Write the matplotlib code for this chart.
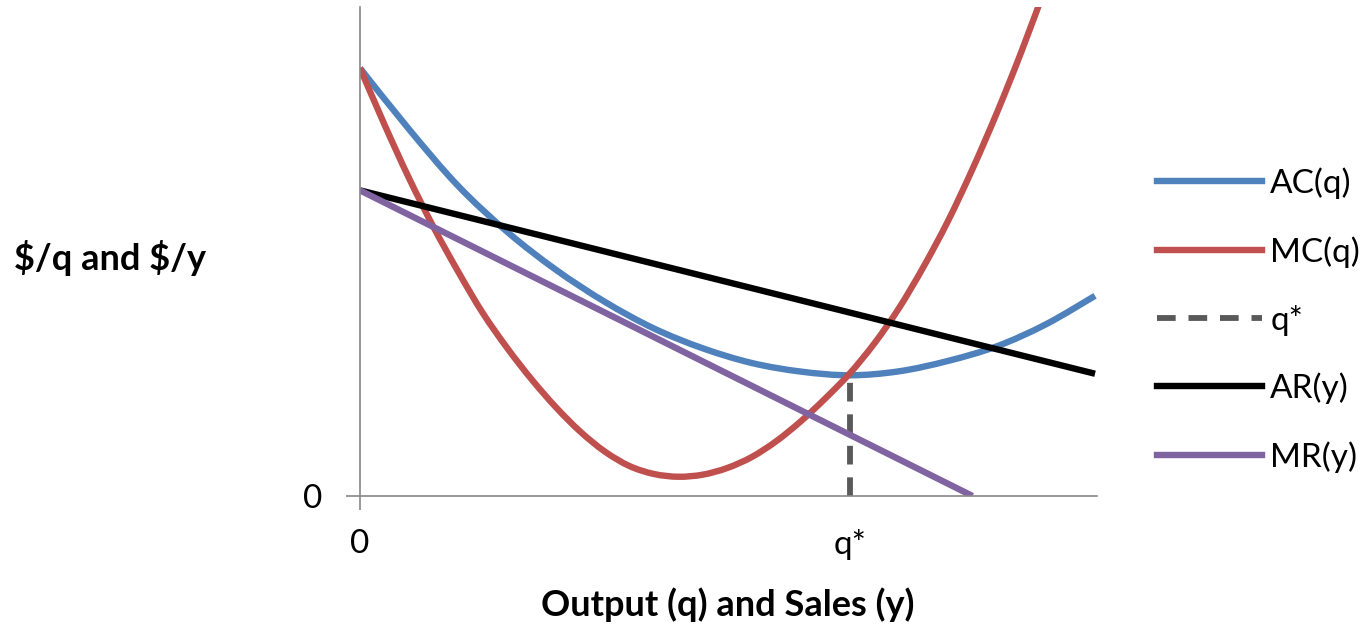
import matplotlib
matplotlib.use("Agg")
import matplotlib.pyplot as plt
from matplotlib.path import Path
from matplotlib.patches import PathPatch
from matplotlib.lines import Line2D

plt.rcParams['font.family'] = ['Lato', 'DejaVu Sans']

# values (x in output units, y in $ units)
q_mc = [0, 0.5, 1, 1.5, 2, 2.5, 3, 3.5, 4, 4.5, 5, 5.5, 6, 6.5, 7, 7.5,
        8, 8.5, 9, 9.5, 10, 10.5, 11, 11.5, 12, 12.5, 13, 13.5, 14]
mc = [14.0, 12.15, 10.4, 8.8, 7.35, 6.0, 4.85, 3.82, 2.9, 2.1, 1.45, 0.98,
      0.72, 0.63, 0.7, 0.92, 1.28, 1.8, 2.45, 3.2, 4.02, 5.0, 6.15, 7.5,
      9.0, 10.7, 12.55, 14.55, 16.7]

q_ac = [0, 1, 2, 3, 4, 5, 6, 7, 8, 9, 10, 11, 12, 13, 14, 15]
ac = [14.0, 12.0, 10.15, 8.65, 7.4, 6.35, 5.48, 4.83, 4.35, 4.07, 3.95,
      4.08, 4.42, 4.9, 5.62, 6.55]

q_ar = [0, 15]
ar = [10.0, 4.0]

q_mr = [0, 12.5]
mr = [10.0, 0.0]

q_star = [10, 10]
q_star_y = [0, 4.0]

c_ac = '#4F81BD'
c_mc = '#C0504D'
c_q = '#595959'
c_mr = '#8064A2'
lw = 4.6


def smooth_line(ax, xs, ys, **kw):
    # excel-style smoothed line: cubic bezier through the points
    pts = list(zip(xs, ys))
    n = len(pts)
    verts = [pts[0]]
    codes = [Path.MOVETO]
    for i in range(n - 1):
        p0 = pts[i - 1] if i > 0 else pts[i]
        p1 = pts[i]
        p2 = pts[i + 1]
        p3 = pts[i + 2] if i + 2 < n else pts[i + 1]
        c1 = (p1[0] + (p2[0] - p0[0]) / 6, p1[1] + (p2[1] - p0[1]) / 6)
        c2 = (p2[0] - (p3[0] - p1[0]) / 6, p2[1] - (p3[1] - p1[1]) / 6)
        verts += [c1, c2, p2]
        codes += [Path.CURVE4] * 3
    patch = PathPatch(Path(verts, codes), fill=False, capstyle='butt',
                      joinstyle='round', **kw)
    ax.add_patch(patch)
    return patch


fig = plt.figure(figsize=(13.69, 6.24), dpi=100)
ax = fig.add_axes([360/1369, 128/624, 737/1369, 489/624])

smooth_line(ax, q_ac, ac, edgecolor=c_ac, lw=lw)
smooth_line(ax, q_mc, mc, edgecolor=c_mc, lw=lw)
ax.plot(q_star, q_star_y, color=c_q, lw=4.2, ls=(0, (3.2, 2.2)))
ax.plot(q_ar, ar, color='black', lw=lw, solid_capstyle='butt')
ax.plot(q_mr, mr, color=c_mr, lw=lw, solid_capstyle='butt')

ax.set_xlim(0, 15.04)
ax.set_ylim(0, 16.0)

for s in ['top', 'right']:
    ax.spines[s].set_visible(False)
for s in ['left', 'bottom']:
    ax.spines[s].set_color('#888888')
    ax.spines[s].set_linewidth(1.2)

ax.set_xticks([0, 10])
ax.set_xticklabels(['0', 'q*'])
ax.set_yticks([0])
ax.set_yticklabels(['0'])
ax.tick_params(axis='x', length=10, width=1.2, color='#888888',
               labelsize=24, pad=14)
ax.tick_params(axis='y', length=10, width=1.2, color='#888888',
               labelsize=24, pad=17)
ax.xaxis.get_major_ticks()[1].tick1line.set_visible(False)

fig.text(110/1369, 1 - 258/624, '\\$/q and \\$/y', fontsize=26,
         fontweight='bold', ha='center', va='center')
fig.text(728/1369, 1 - 605/624, 'Output (q) and Sales (y)', fontsize=26,
         fontweight='bold', ha='center', va='center')

handles = [
    Line2D([], [], color=c_ac, lw=lw),
    Line2D([], [], color=c_mc, lw=lw),
    Line2D([], [], color=c_q, lw=4.2, ls=(0, (3.2, 2.2))),
    Line2D([], [], color='black', lw=lw),
    Line2D([], [], color=c_mr, lw=lw),
]
labels = ['AC(q)', 'MC(q)', 'q*', 'AR(y)', 'MR(y)']
fig.legend(handles, labels, loc='center left',
           bbox_to_anchor=(1157/1369, 1 - 320/624),
           frameon=False, fontsize=24, handlelength=3.15, handletextpad=0.25,
           labelspacing=1.11, borderpad=0, borderaxespad=0)

fig.savefig('out.png', dpi=100)
